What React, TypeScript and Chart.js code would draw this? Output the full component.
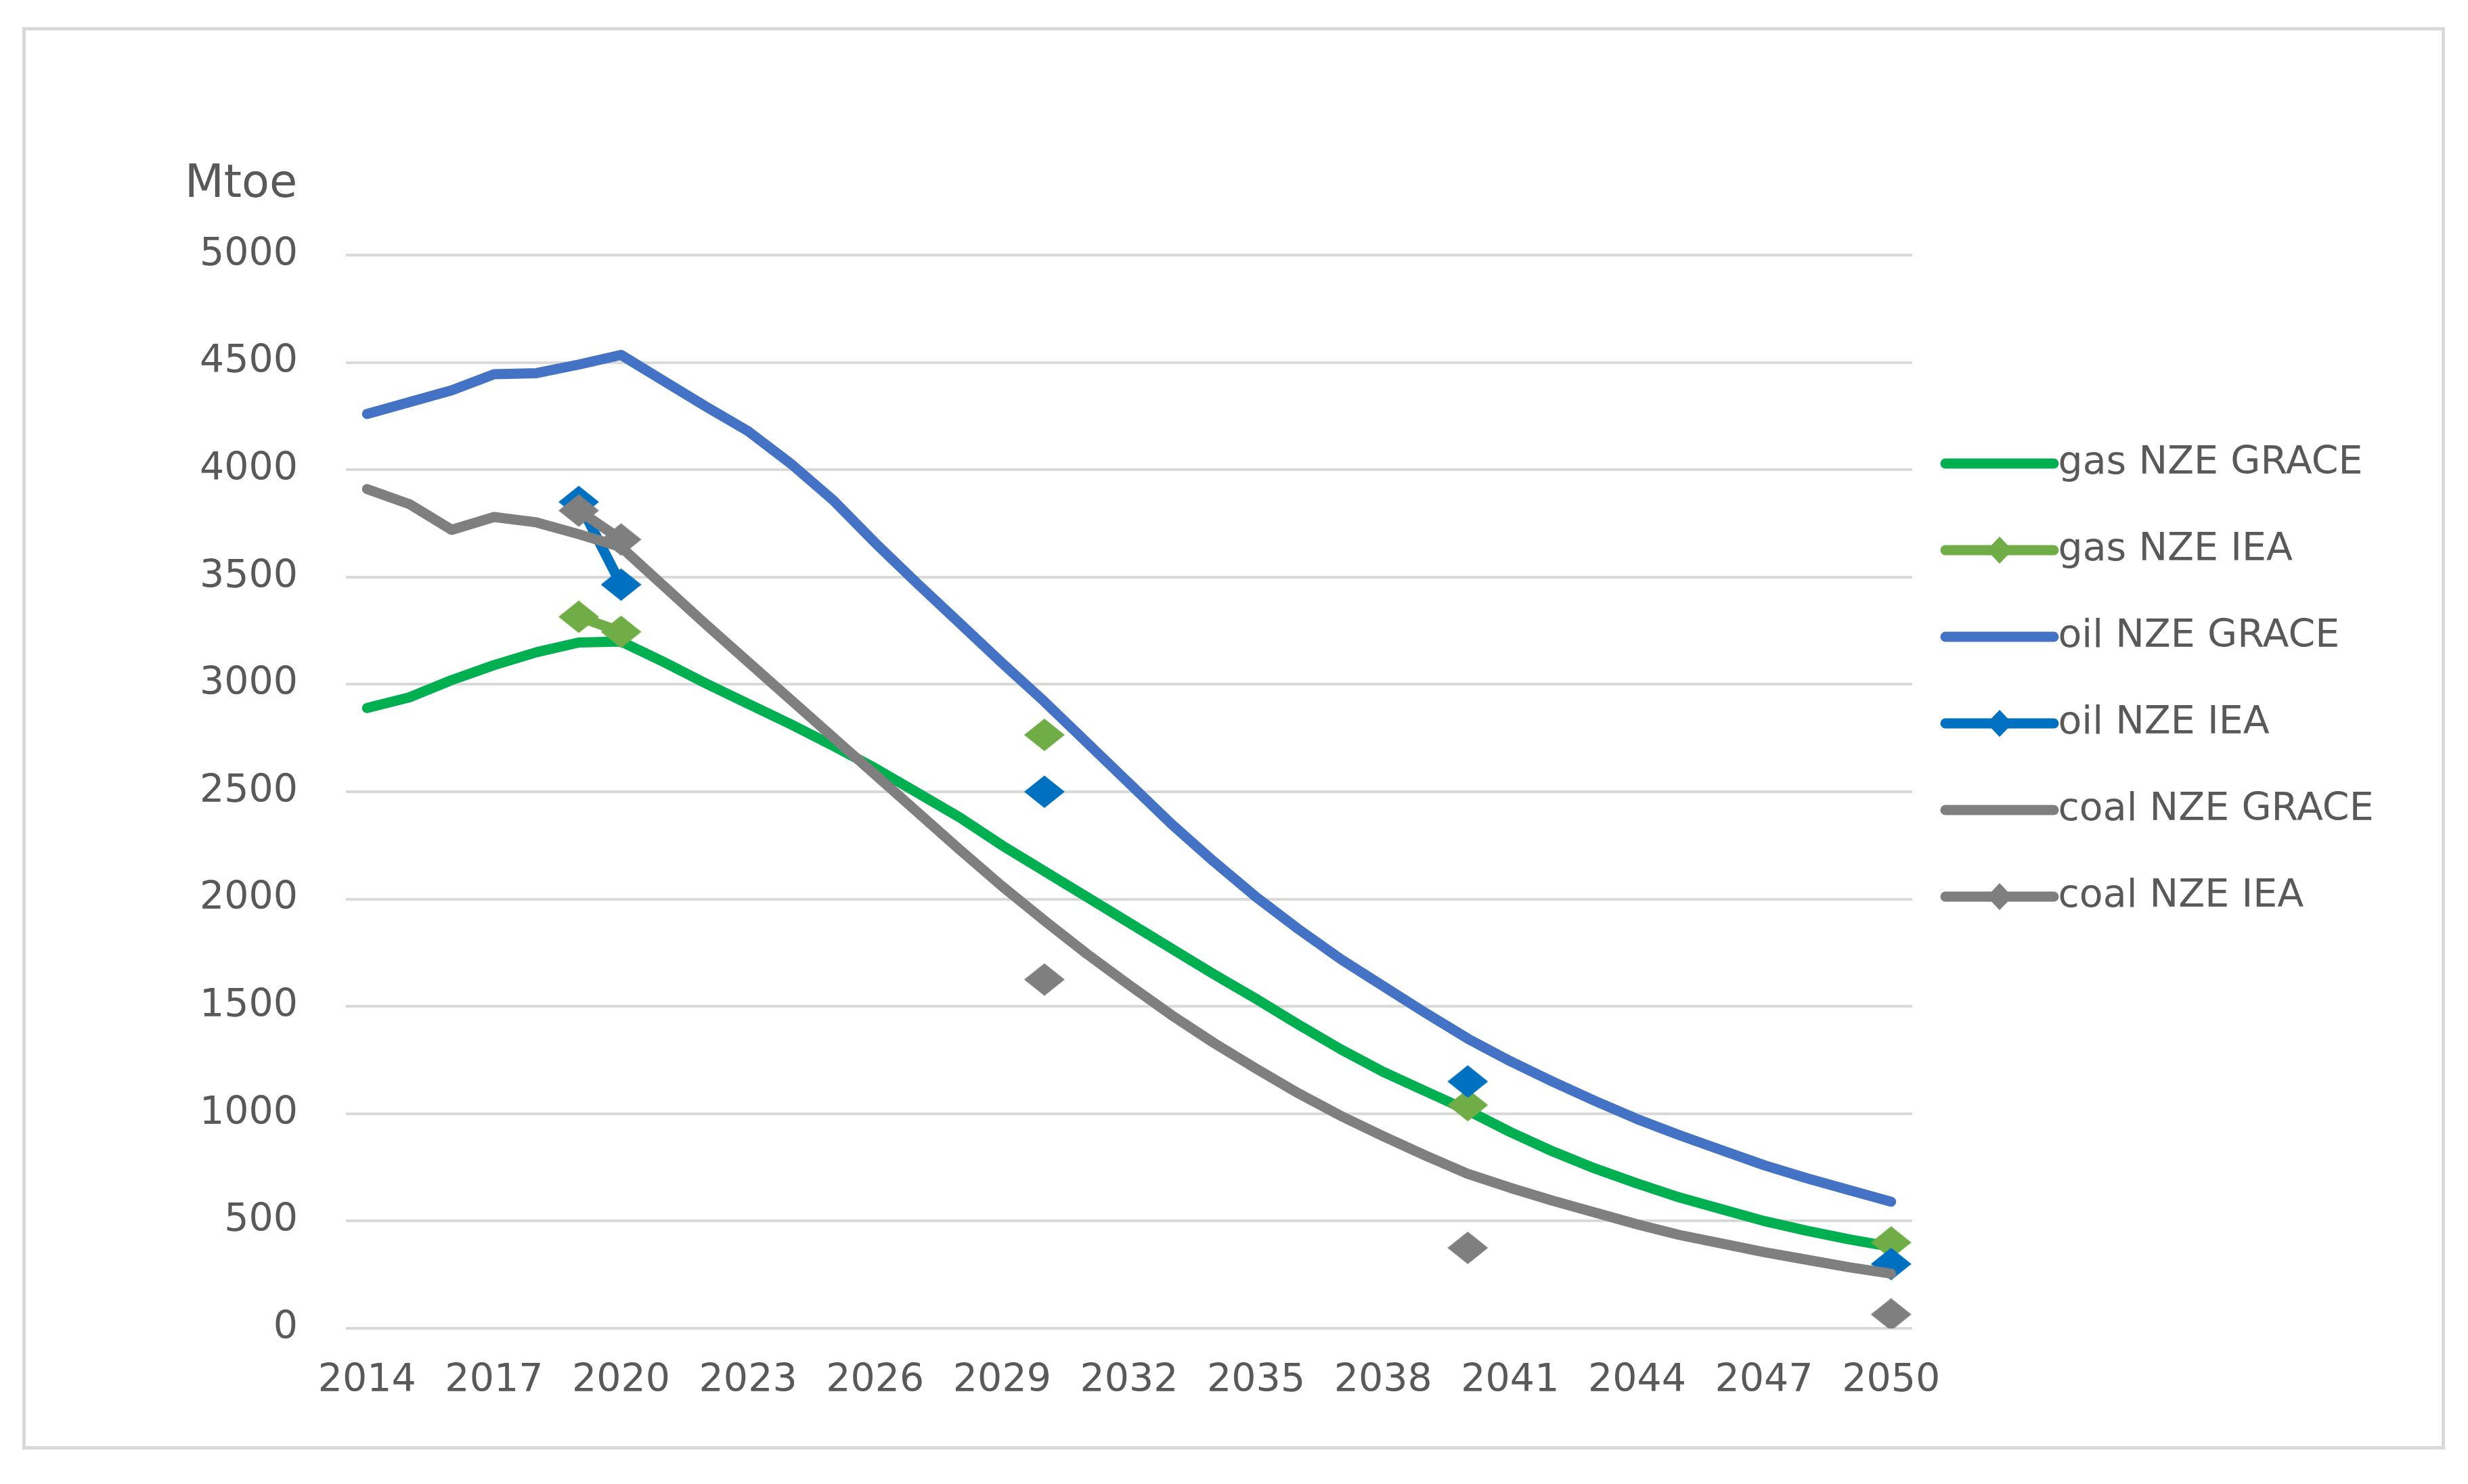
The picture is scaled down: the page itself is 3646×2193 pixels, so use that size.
import React, { useEffect, useRef } from 'react';
import { Chart, registerables } from 'chart.js';

Chart.register(...registerables);

// ---------- data ----------
const years = [
  '2014', '2015', '2016', '2017', '2018', '2019', '2020', '2021', '2022', '2023',
  '2024', '2025', '2026', '2027', '2028', '2029', '2030', '2031', '2032', '2033',
  '2034', '2035', '2036', '2037', '2038', '2039', '2040', '2041', '2042', '2043',
  '2044', '2045', '2046', '2047', '2048', '2049', '2050',
];

const gasGrace = [
  2890, 2940, 3020, 3090, 3150, 3195, 3200, 3105, 3005, 2910,
  2815, 2715, 2610, 2495, 2380, 2250, 2130, 2010, 1890, 1770,
  1650, 1535, 1415, 1300, 1195, 1105, 1015, 915, 825, 745,
  675, 610, 555, 500, 455, 415, 380,
];

const oilGrace = [
  4260, 4315, 4370, 4445, 4450, 4490, 4535, 4415, 4295, 4180,
  4030, 3860, 3660, 3470, 3285, 3100, 2920, 2730, 2540, 2350,
  2175, 2010, 1860, 1720, 1595, 1470, 1350, 1245, 1150, 1060,
  975, 900, 830, 760, 700, 645, 590,
];

const coalGrace = [
  3910, 3840, 3720, 3780, 3755, 3700, 3640, 3460, 3280, 3105,
  2930, 2755, 2580, 2405, 2230, 2060, 1900, 1745, 1600, 1460,
  1330, 1210, 1095, 990, 895, 805, 720, 655, 595, 540,
  485, 435, 395, 355, 320, 285, 255,
];

const ieaYears = ['2019', '2020', '2030', '2040', '2050'];
const gasIea = [3315, 3245, 2765, 1040, 400];
const oilIea = [3850, 3465, 2500, 1150, 300];
const coalIea = [3810, 3675, 1625, 375, 65];

const seriesNames = [
  'gas NZE GRACE',
  'gas NZE IEA',
  'oil NZE GRACE',
  'oil NZE IEA',
  'coal NZE GRACE',
  'coal NZE IEA',
];

const yTickMin = 0;
const yTickMax = 5000;
const yTickStep = 500;
const unitLabel = 'Mtoe';

// ---------- style ----------
const W = 3646;
const H = 2193;
const FAMILY = '"DejaVu Sans"';
const FONT_SIZE = 57;
const TEXT_COLOR = '#595959';
const GRID_COLOR = '#d9d9d9';
const COLORS = ['#00B050', '#70AD47', '#4472C4', '#0070C0', '#7F7F7F', '#7F7F7F'];

const PLOT_LEFT = 511;
const PLOT_RIGHT = 2825;
const PLOT_TOP = 377;
const PLOT_BOTTOM = 1963;
const PAD_LEFT = 100;
const PAD_BOTTOM = 80;
const LEGEND_PAD = 71;
const LEGEND_BOX = 116;
const LEGEND_FIRST_ROW = 685;

function makeDiamond(color: string, w: number, h: number) {
  const c = document.createElement('canvas');
  c.width = w;
  c.height = h;
  const g = c.getContext('2d')!;
  g.fillStyle = color;
  g.beginPath();
  g.moveTo(w / 2, 0);
  g.lineTo(w, h / 2);
  g.lineTo(w / 2, h);
  g.lineTo(0, h / 2);
  g.closePath();
  g.fill();
  return c;
}

function makeLegendImg(color: string, marker: boolean) {
  const w = 176;
  const h = 44;
  const c = document.createElement('canvas');
  c.width = w;
  c.height = h;
  const g = c.getContext('2d')!;
  g.strokeStyle = color;
  g.lineWidth = 15;
  g.lineCap = 'round';
  g.beginPath();
  g.moveTo(8, h / 2);
  g.lineTo(w - 8, h / 2);
  g.stroke();
  if (marker) {
    const dw = 38;
    const dh = 40;
    g.fillStyle = color;
    g.beginPath();
    g.moveTo(w / 2, h / 2 - dh / 2);
    g.lineTo(w / 2 + dw / 2, h / 2);
    g.lineTo(w / 2, h / 2 + dh / 2);
    g.lineTo(w / 2 - dw / 2, h / 2);
    g.closePath();
    g.fill();
  }
  return c;
}

function expandIea(values: number[]) {
  return years.map((y) => {
    const i = ieaYears.indexOf(y);
    return i >= 0 ? values[i] : null;
  });
}

const unitPlugin = {
  id: 'unitPlugin',
  afterDraw(chart: any) {
    const { ctx, chartArea } = chart;
    ctx.save();
    ctx.font = `67px ${FAMILY}`;
    ctx.fillStyle = TEXT_COLOR;
    ctx.textAlign = 'left';
    ctx.textBaseline = 'alphabetic';
    ctx.fillText(unitLabel, chartArea.left - 238, chartArea.top - 86);
    ctx.restore();
  },
};

export default function App() {
  const ref = useRef<HTMLCanvasElement>(null);

  useEffect(() => {
    document.body.style.margin = '0';
    const canvas = ref.current;
    if (!canvas) return;

    // measure widest legend text so that the plot area ends where the reference does
    const mctx = document.createElement('canvas').getContext('2d')!;
    mctx.font = `normal ${FONT_SIZE}px ${FAMILY}`;
    const maxText = Math.max(...seriesNames.map((s) => mctx.measureText(s).width));
    const legendWidth = LEGEND_PAD + LEGEND_BOX + FONT_SIZE / 2 + maxText + 10;
    const padRight = Math.max(0, W - PLOT_RIGHT - legendWidth);
    const legendTitlePad = LEGEND_FIRST_ROW - FONT_SIZE / 2 - PLOT_TOP - LEGEND_PAD - 12;

    const legendImgs = COLORS.map((c, i) => makeLegendImg(c, i % 2 === 1));
    const diamonds = COLORS.map((c) => makeDiamond(c, 60, 48));

    const lineValues = [gasGrace, expandIea(gasIea), oilGrace, expandIea(oilIea), coalGrace, expandIea(coalIea)];

    const datasets = lineValues.map((vals, i) => {
      const isIea = i % 2 === 1;
      return {
        label: seriesNames[i],
        data: vals,
        borderColor: COLORS[i],
        backgroundColor: COLORS[i],
        borderWidth: 15,
        borderCapStyle: 'round' as const,
        borderJoinStyle: 'round' as const,
        tension: 0,
        spanGaps: false,
        fill: false,
        pointStyle: isIea ? diamonds[i] : 'circle',
        pointRadius: isIea ? 5 : 0,
        pointHoverRadius: isIea ? 5 : 0,
        pointBorderWidth: 0,
        order: 6 - i,
      };
    });

    const chart = new Chart(canvas, {
      type: 'line',
      data: { labels: years, datasets: datasets as any },
      plugins: [unitPlugin],
      options: {
        responsive: false,
        animation: false,
        events: [],
        layout: {
          padding: { left: PAD_LEFT, right: padRight, top: PLOT_TOP, bottom: PAD_BOTTOM },
        },
        scales: {
          x: {
            type: 'category',
            offset: true,
            grid: { display: false, drawTicks: false },
            border: { display: false },
            ticks: {
              autoSkip: false,
              maxRotation: 0,
              minRotation: 0,
              padding: 44,
              color: TEXT_COLOR,
              font: { size: FONT_SIZE, family: FAMILY },
              callback: function (this: any, val: any, index: number) {
                return index % 3 === 0 ? this.getLabelForValue(val) : '';
              },
            },
            afterFit: (s: any) => {
              s.height = H - PLOT_BOTTOM - PAD_BOTTOM;
            },
          },
          y: {
            min: yTickMin,
            max: yTickMax,
            grid: { color: GRID_COLOR, lineWidth: 4, drawTicks: false },
            border: { display: false },
            ticks: {
              stepSize: yTickStep,
              padding: 71,
              color: TEXT_COLOR,
              font: { size: FONT_SIZE, family: FAMILY },
              callback: (v: any) => String(v),
            },
            afterFit: (s: any) => {
              s.width = PLOT_LEFT - PAD_LEFT;
            },
          },
        },
        plugins: {
          tooltip: { enabled: false },
          title: { display: false },
          legend: {
            display: true,
            position: 'right',
            align: 'start',
            title: {
              display: true,
              text: '',
              font: { size: 10, family: FAMILY },
              padding: { top: legendTitlePad, bottom: 0 } as any,
            },
            labels: {
              usePointStyle: true,
              pointStyleWidth: LEGEND_BOX,
              padding: LEGEND_PAD,
              color: TEXT_COLOR,
              font: { size: FONT_SIZE, family: FAMILY },
              generateLabels: (ch: any) =>
                ch.data.datasets.map((ds: any, i: number) => ({
                  text: ds.label,
                  pointStyle: legendImgs[i],
                  fillStyle: COLORS[i],
                  strokeStyle: COLORS[i],
                  lineWidth: 0,
                  hidden: false,
                  datasetIndex: i,
                  fontColor: TEXT_COLOR,
                })),
            },
          },
        },
      } as any,
    });

    return () => {
      chart.destroy();
    };
  }, []);

  return (
    <div style={{ position: 'relative', width: W, height: H, overflow: 'hidden', background: '#ffffff' }}>
      <div
        style={{
          position: 'absolute',
          left: 33,
          top: 40,
          width: 3612 - 33,
          height: 2142 - 40,
          border: `5px solid ${GRID_COLOR}`,
          boxSizing: 'border-box',
          pointerEvents: 'none',
        }}
      />
      <canvas
        ref={ref}
        width={W}
        height={H}
        style={{ position: 'absolute', left: 0, top: 0, width: W, height: H, display: 'block' }}
      />
    </div>
  );
}
